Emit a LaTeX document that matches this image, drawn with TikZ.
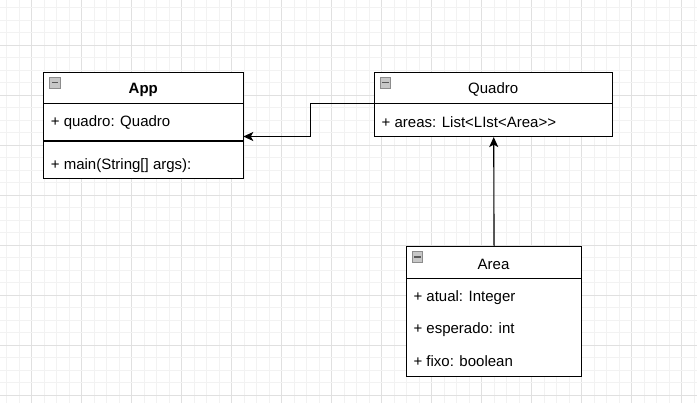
\documentclass[tikz,border=0pt]{standalone}
\usepackage{fontspec}
\setmainfont{Liberation Sans}
\usetikzlibrary{arrows.meta}
\begin{document}
\begin{tikzpicture}[x=1pt,y=-1pt,
  minorgrid/.style={draw=black!5,line width=0.8pt},
  majorgrid/.style={draw=black!12,line width=0.8pt},
  umlbox/.style={draw=black,line width=1.1pt,fill=white,anchor=north west,inner sep=0pt},
  sepline/.style={draw=black,line width=1.1pt},
  attr/.style={anchor=west,inner sep=0pt,yshift=-1.5pt,font=\fontsize{15}{18}\selectfont},
  ttl/.style={inner sep=0pt,yshift=-1.5pt,font=\fontsize{15}{18}\selectfont},
  icon/.style={draw=black!45,fill=black!22,line width=0.8pt,minimum size=10.5pt,inner sep=0pt,
    path picture={\draw[black!65,line width=1.2pt] ([xshift=2pt]path picture bounding box.west) -- ([xshift=-2pt]path picture bounding box.east);}},
  conn/.style={draw=black,line width=1.1pt,-{Stealth[length=10pt,width=9pt,inset=2.5pt]}}
]
\useasboundingbox (0,0) rectangle (697,403);
\fill[white] (0,0) rectangle (697,403);
% grid
\foreach \i in {0,...,55}{
  \pgfmathsetmacro\xx{6.7+12.5*\i}
  \pgfmathtruncatemacro\m{mod(\i,4)}
  \ifnum\m=2 \draw[majorgrid] (\xx,0) -- (\xx,403); \else \draw[minorgrid] (\xx,0) -- (\xx,403); \fi
}
\foreach \j in {0,...,31}{
  \pgfmathsetmacro\yy{7.5+12.5*\j}
  \pgfmathtruncatemacro\m{mod(\j,4)}
  \ifnum\m=3 \draw[majorgrid] (0,\yy) -- (697,\yy); \else \draw[minorgrid] (0,\yy) -- (697,\yy); \fi
}
% App
\node[umlbox,minimum width=200pt,minimum height=106.8pt] (app) at (43.3,71.6) {};
\draw[sepline] (43.3,103.3) -- (243.3,103.3);
\draw[sepline] (43.3,141) -- (243.3,141);
\node[icon] (appicon) at (55,82.8) {};
\node[ttl,font=\fontsize{15}{18}\selectfont\bfseries] (apptitle) at (143.3,88) {App};
\node[attr] (appattr) at (50.7,121) {+ quadro: Quadro};
\node[attr] (appop) at (50.7,164.3) {+ main(String[] args):};
% Quadro
\node[umlbox,minimum width=238.3pt,minimum height=64.4pt] (quadro) at (374,71.6) {};
\draw[sepline] (374,103.3) -- (612.3,103.3);
\node[icon] (quadroicon) at (385.5,82.8) {};
\node[ttl] (quadrotitle) at (493.2,88) {Quadro};
\node[attr] (quadroattr) at (381.5,121) {+ areas: List<LIst<Area>{}>};
% Area
\node[umlbox,minimum width=175pt,minimum height=129.7pt] (area) at (406,246) {};
\draw[sepline] (406,278.3) -- (581,278.3);
\node[icon] (areaicon) at (417.5,257) {};
\node[ttl] (areatitle) at (493.5,263) {Area};
\node[attr] (areaa1) at (413.3,296) {+ atual: Integer};
\node[attr] (areaa2) at (413.3,328) {+ esperado: int};
\node[attr] (areaa3) at (413.3,360) {+ fixo: boolean};
% connectors
\coordinate (q1) at (374,103.3);
\coordinate (bend1) at (310.7,103.3);
\coordinate (bend2) at (310.7,136.5);
\coordinate (a1) at (243.3,136.5);
\draw[conn] (q1) -- (bend1) -- (bend2) -- (a1);
\draw[conn] (area.north) -- (quadro.south);
\end{tikzpicture}
\end{document}
